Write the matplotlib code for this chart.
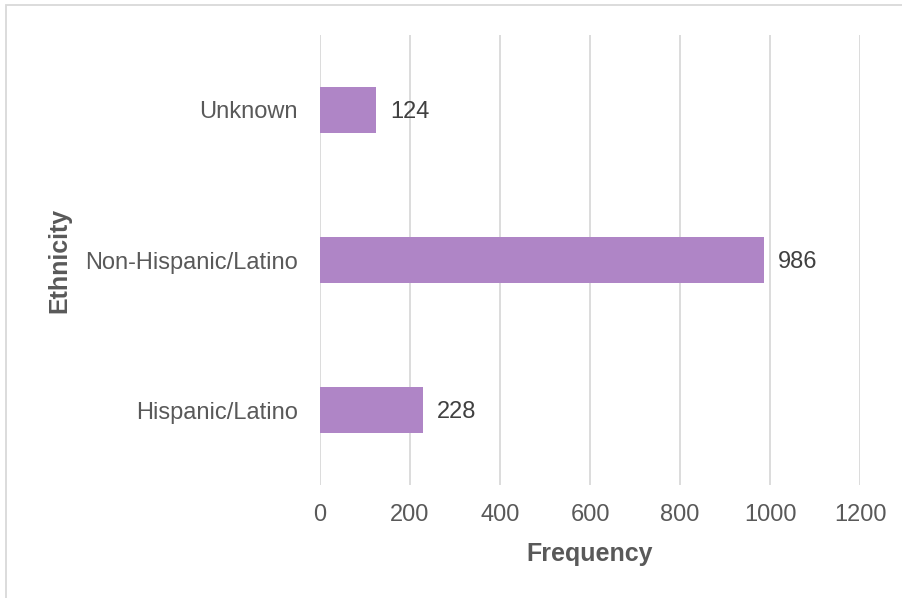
#!/usr/bin/env python3
import matplotlib
matplotlib.use('Agg')
import matplotlib.pyplot as plt
from matplotlib.patches import Rectangle

# ethnicity counts, drawn bottom to top
categories = ['Hispanic/Latino', 'Non-Hispanic/Latino', 'Unknown']
counts = [228, 986, 124]
xticks = [0, 200, 400, 600, 800, 1000, 1200]

bar_color = '#AF85C6'
text_color = '#595959'
grid_color = '#D9D9D9'

plt.rc('font', family=['Liberation Sans', 'DejaVu Sans'], size=17)

fig = plt.figure(figsize=(9.02, 5.98), dpi=100)
ax = fig.add_axes([320/902, 1 - 485/598, 540/902, 450/598])

ypos = range(len(categories))
ax.barh(ypos, counts, height=0.31, color=bar_color, zorder=3)
for y, v in zip(ypos, counts):
  ax.text(v + 32, y - 0.01, str(v), va='center', ha='left', color='#404040', fontsize=17)

ax.set_xlim(0, 1200)
ax.set_ylim(-0.5, 2.5)
ax.set_xticks(xticks)
ax.set_yticks(list(ypos))
ax.set_yticklabels(categories)
ax.tick_params(axis='both', length=0, colors=text_color, labelsize=17)
ax.tick_params(axis='x', pad=14)
ax.tick_params(axis='y', pad=16)
ax.xaxis.grid(True, color=grid_color, linewidth=1.3, zorder=0)
for s in ax.spines.values():
  s.set_visible(False)

ax.set_xlabel('Frequency', fontsize=18, fontweight='bold', color=text_color, labelpad=11)
ax.set_ylabel('Ethnicity', fontsize=18, fontweight='bold', color=text_color, labelpad=10)

# thin frame along the top and left edge of the image
fig.patches.append(Rectangle((6/902, -0.1), 2.0, 1.0 - 5/598 + 0.1, transform=fig.transFigure,
                             fill=False, edgecolor=grid_color, linewidth=1.3))

fig.savefig('out.png', dpi=100)
